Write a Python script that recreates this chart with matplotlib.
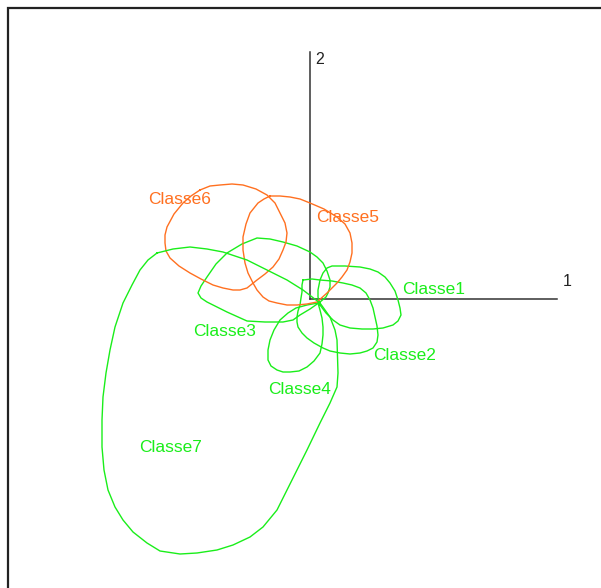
import matplotlib
matplotlib.use("Agg")
import matplotlib.pyplot as plt

# factor map, coordinates in map units (axes run 0..247)
axis_len = 247
axis_names = ["1", "2"]

classes = ["Classe1", "Classe2", "Classe3", "Classe4", "Classe5", "Classe6", "Classe7"]
groups = ["green", "green", "green", "green", "orange", "orange", "green"]

outline_x = {
    "Classe1": [10, 8, 8, 10, 13, 17, 22, 35, 50, 60, 68, 75, 80, 85, 88, 90, 91, 88, 83, 73,
                63, 52, 40, 30, 23, 16],
    "Classe2": [-7, 2, 10, 22, 33, 42, 50, 56, 60, 63, 65, 67, 68, 67, 63, 57, 50, 40, 30, 20,
                13, 4, -3, -8, -12, -13, -13, -12, -10, -9, -8, -8],
    "Classe3": [10, 16, 18, 20, 20, 17, 13, 7, 0, -13, -27, -40, -53, -68, -83, -94, -103, -109,
                -112, -109, -103, -83, -63, -45, -27, -17, -10, 0],
    "Classe4": [8, 10, 12, 13, 13, 12, 10, 4, -3, -11, -20, -27, -33, -39, -42, -42, -40, -36,
                -30, -22, -14, -3],
    "Classe5": [-40, -30, -20, -10, 0, 14, 27, 35, 40, 42, 42, 40, 37, 32, 27, 22, 17, 7, -3,
                -13, -23, -33, -41, -47, -53, -57, -62, -65, -67, -67, -64, -60, -52, -46],
    "Classe6": [-110, -100, -90, -78, -67, -54, -43, -35, -30, -25, -23, -24, -27, -31, -37, -45,
                -53, -63, -70, -77, -87, -97, -109, -120, -131, -140, -144, -145, -145, -143,
                -136, -127, -119],
    "Classe7": [-153, -137, -120, -103, -87, -63, -43, -23, -7, 10, 20, 25, 27, 28, 27, 20, 10,
                -3, -13, -23, -33, -47, -60, -77, -93, -113, -130, -150, -163, -177, -187, -195,
                -202, -206, -208, -208, -207, -204, -200, -195, -187, -178, -170, -162],
}
outline_y = {
    "Classe1": [-6, 2, 9, 19, 26, 31, 33, 33, 32, 30, 27, 22, 16, 8, -1, -9, -16, -22, -26, -29,
                -30, -30, -29, -26, -21, -14],
    "Classe2": [19, 20, 19, 18, 16, 14, 11, 6, -1, -9, -18, -27, -36, -43, -49, -52, -54, -55,
                -54, -52, -49, -44, -39, -34, -28, -23, -18, -12, -6, 1, 7, 14],
    "Classe3": [-3, 2, 6, 12, 19, 28, 36, 42, 47, 53, 57, 60, 61, 55, 46, 35, 22, 13, 6, 1, -3,
                -13, -22, -23, -23, -21, -16, -10],
    "Classe4": [-4, -11, -19, -28, -36, -45, -54, -62, -68, -72, -73, -73, -71, -67, -61, -51,
                -41, -31, -21, -14, -9, -6],
    "Classe5": [103, 103, 102, 100, 96, 90, 82, 75, 66, 56, 46, 37, 29, 22, 16, 11, 6, -3, -5,
                -6, -6, -4, -2, 2, 9, 16, 26, 36, 49, 62, 75, 86, 96, 100],
    "Classe6": [109, 113, 114, 115, 114, 110, 104, 96, 86, 76, 66, 57, 49, 40, 32, 25, 19, 11,
                9, 9, 11, 14, 20, 26, 33, 41, 48, 56, 64, 72, 85, 96, 103],
    "Classe7": [46, 50, 52, 50, 47, 39, 29, 19, 9, -4, -18, -31, -41, -74, -88, -104, -124,
                -151, -171, -191, -211, -228, -238, -246, -251, -254, -255, -252, -244, -233,
                -221, -208, -191, -171, -148, -121, -98, -74, -51, -28, -4, 14, 29, 39],
}
label_x = [92, 63, -117, -42, 6, -162, -171]
label_y = [10, -56, -32, -90, 81, 99, -148]

colors = {"green": "#1aee1a", "orange": "#ff7020"}

fig = plt.figure(figsize=(6.01, 5.88), dpi=100)
ax = fig.add_axes([0, 0, 1, 1])
ax.set_xlim(-310, 291)
ax.set_ylim(-289, 299)
ax.axis("off")

# frame (only left and top edges are visible in the picture)
ax.plot([-302, -302, 300], [-300, 291, 291], color="#222222", lw=1.6,
        solid_joinstyle="miter", clip_on=False)

# factor axes
ax.plot([0, axis_len], [0, 0], color="#333333", lw=1.1)
ax.plot([0, 0], [0, axis_len], color="#333333", lw=1.1)
ax.text(axis_len + 6, 18, axis_names[0], fontsize=11.5, family="Liberation Sans",
        va="center", ha="left", color="#222222")
ax.text(5, axis_len - 8, axis_names[1], fontsize=11.5, family="Liberation Sans",
        va="center", ha="left", color="#222222")

for name, grp, lx, ly in zip(classes, groups, label_x, label_y):
    xs = outline_x[name] + outline_x[name][:1]
    ys = outline_y[name] + outline_y[name][:1]
    c = colors[grp]
    ax.plot(xs, ys, color=c, lw=1.0, solid_joinstyle="round")
    ax.text(lx, ly, name, color=c, fontsize=12.5, family="Liberation Sans",
            va="center", ha="left")

fig.savefig("out.png", dpi=100)
